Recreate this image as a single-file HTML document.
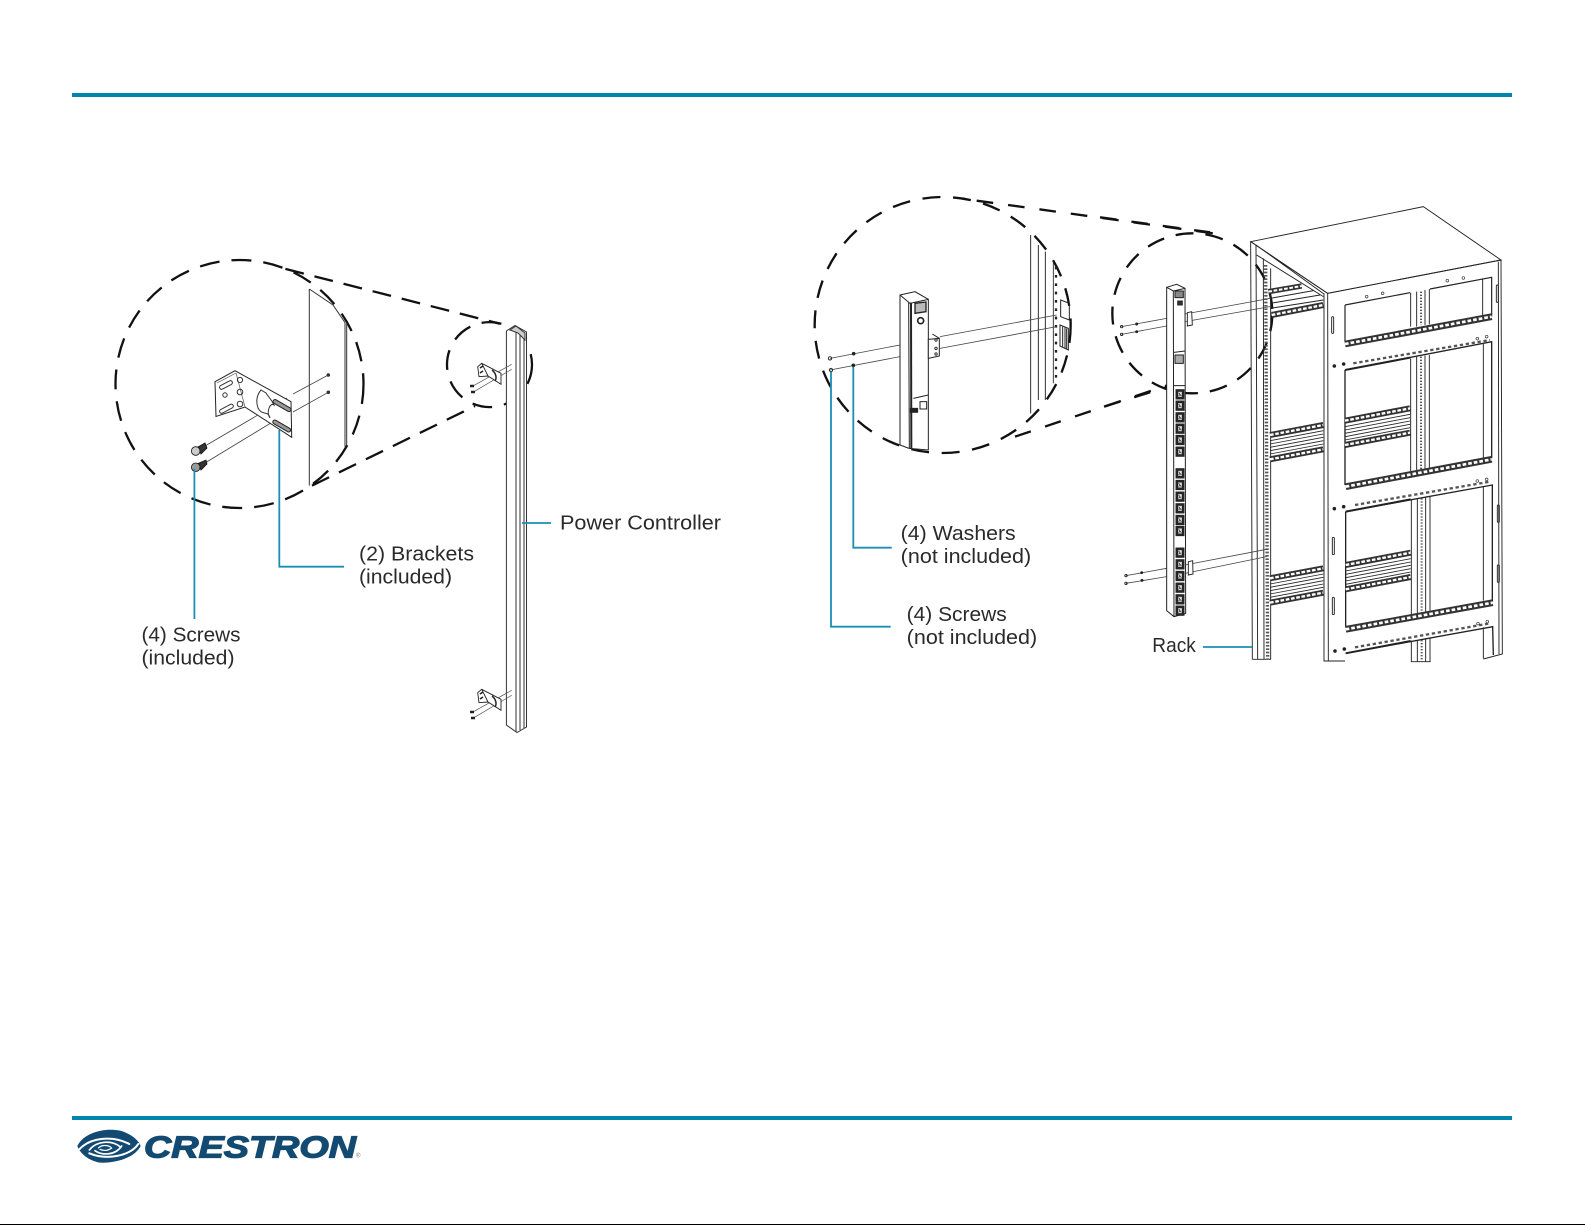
<!DOCTYPE html>
<html><head><meta charset="utf-8"><style>
html,body{margin:0;padding:0;background:#fff}
svg{display:block}
text{font-family:"Liberation Sans",sans-serif;fill:#2a2a2a;font-size:20px}
</style></head><body>
<svg width="1585" height="1225" viewBox="0 0 1585 1225" xmlns="http://www.w3.org/2000/svg">
<defs>
<g id="outlet"><rect x="-12" y="-14" width="24" height="28" fill="#2a2a2a"/><rect x="-7" y="-9" width="14" height="18" fill="#ddd"/><path d="M-4,-5 L4,5 M-4,5 L0,0" stroke="#222" stroke-width="2" fill="none"/></g>
<g id="railL" fill="none">
<path d="M510,735 L670,705" stroke="#333" stroke-width="18"/><path d="M510,735 L670,705" stroke="#fff" stroke-width="7" stroke-dasharray="11 5"/>
<path d="M510,808 L670,778" stroke="#333" stroke-width="18"/><path d="M510,808 L670,778" stroke="#fff" stroke-width="7" stroke-dasharray="11 5"/>
<path d="M510,752 L670,722 M510,762 L670,732 M510,772 L670,742 M510,782 L670,752 M510,792 L670,762" stroke="#222" stroke-width="2.5"/>
</g>
<g id="railF" fill="none">
<path d="M735,692 L930,655" stroke="#333" stroke-width="18"/><path d="M735,692 L930,655" stroke="#fff" stroke-width="7" stroke-dasharray="11 5"/>
<path d="M735,765 L930,728" stroke="#333" stroke-width="18"/><path d="M735,765 L930,728" stroke="#fff" stroke-width="7" stroke-dasharray="11 5"/>
<path d="M735,710 L930,673 M735,720 L930,683 M735,730 L930,693 M735,740 L930,703 M735,750 L930,713" stroke="#222" stroke-width="2.5"/>
</g>
<g id="hole"><circle r="4" fill="#fff" stroke="#333" stroke-width="2"/></g>
<g id="miniBr" fill="none" stroke="#222" stroke-width="0.9">
<path d="M471.7,386.7 L511.7,364.3 M472.3,392.7 L511.7,369.3" stroke="#555" stroke-width="0.7"/>
<path d="M477.7,366.7 L481.7,363.3 L501,373.3 L501,384.3 L488,376 L479,376.7 Z" fill="#fff"/>
<path d="M481.7,363.3 L488,376" />
<path d="M480,368 L483,366 M480,373 L483,371" stroke-width="1.6"/>
<path d="M492,370 C496,373 497,378 495,381" stroke-width="1.5"/>
<path d="M470,386 L474,386 M471,392 L475,392" stroke-width="2.6"/>
</g>
</defs>

<rect x="72" y="93" width="1440" height="4" fill="#0085ad"/>
<rect x="72" y="1116" width="1440" height="4" fill="#0085ad"/>
<rect x="0" y="1224" width="1585" height="1" fill="#000"/>

<!-- LEFT DIAGRAM -->
<g fill="none" stroke="#111" stroke-width="2.3">
<circle cx="239.5" cy="384" r="124" stroke-dasharray="20 12"/>
<circle cx="489.5" cy="364.6" r="42.5" stroke-dasharray="20 12"/>
<path d="M285.4,268.9 L499.7,323.7" stroke-dasharray="19 11"/>
<path d="M312,485.6 L475,406" stroke-dasharray="19 11"/>
</g>
<g fill="none" stroke="#333" stroke-width="1">
<path d="M309.3,289 L309.3,485.6"/>
<path d="M309.3,289 L333,305 L345,322.6"/>
<path d="M345,322.6 L345,446.7 M346.7,322.6 L346.7,446.7"/>
<path d="M205,446 L287,398 M293,394 L328.3,375 M205,463 L289,412 M293,412 L328.3,392.3" stroke="#444" stroke-width="0.8"/>
<circle cx="328.3" cy="375" r="1.3" fill="#333"/><circle cx="328.3" cy="392.3" r="1.3" fill="#333"/>
<path d="M215,381.7 L235,370.7 L291,401.7 L291.7,437.3 L245,407 L216,416.5 Z" fill="#fff" stroke="#222"/>
<path d="M217,383 L236,373 M236,373 L245,407" stroke="#555" stroke-width="0.7"/>
<path d="M261,390 C256,396 256,402 258,408 C262,416 268,410 270,418 C266,412 270,402 274,405 C271,398 268,397 266,393 Z" fill="#fff" stroke="#333"/>
<rect x="272" y="402.500" width="20" height="4" rx="2" transform="rotate(30 280 405)" fill="#999" stroke="#222"/>
<rect x="272" y="423" width="20" height="4" rx="2" transform="rotate(30 280 425)" fill="#999" stroke="#222"/>
<rect x="219" y="383" width="14" height="4" rx="2" transform="rotate(-28 226 385)"/>
<rect x="219" y="407" width="15" height="4" rx="2" transform="rotate(-28 226 409)"/>
<circle cx="240" cy="380" r="2.6"/><circle cx="240" cy="392" r="2.8"/><circle cx="240" cy="404" r="2.8"/><circle cx="225" cy="395" r="2.2"/>
</g>
<g fill="#333" stroke="#111" stroke-width="0.8">
<path d="M198,447 L205,443 L207,448 L201,454 Z"/>
<circle cx="195.700" cy="451" r="4.3" fill="#ccc"/>
<path d="M198,463.500 L206,460 L207,464 L201,470 Z"/>
<circle cx="195.700" cy="467.300" r="4.3" fill="#999"/>
</g>
<g fill="none" stroke="#333" stroke-width="1">
<path d="M506.4,331 L515,325.500 L526.500,332 L526.500,727 L517,732.500 L506.400,725 Z" fill="#fff"/>
<path d="M516,332 L516,732 M520,335 L520,730 M524,338 L524,728"/>
<path d="M510,330 L516,326 L525,333 L525,340 L518,333 Z" fill="#ccc"/>
</g>
<use href="#miniBr"/>
<use href="#miniBr" transform="translate(0,326)"/>
<g fill="none" stroke="#1a8fb4" stroke-width="1.800">
<path d="M522,523 L551,523"/>
<path d="M279.300,430 L279.300,566.700 L344,566.700"/>
<path d="M194.400,469 L194.400,619"/>
</g>
<text x="560" y="529.500" textLength="161" lengthAdjust="spacingAndGlyphs">Power Controller</text>
<text x="359" y="560.500" textLength="115" lengthAdjust="spacingAndGlyphs">(2) Brackets</text>
<text x="359" y="583.500" textLength="93" lengthAdjust="spacingAndGlyphs">(included)</text>
<text x="141.500" y="641.500" textLength="99" lengthAdjust="spacingAndGlyphs">(4) Screws</text>
<text x="141.500" y="664.500" textLength="93" lengthAdjust="spacingAndGlyphs">(included)</text>

<!-- RIGHT INSET (zoom coords) -->
<g transform="translate(800,180) scale(0.33333)" fill="none" stroke="#222" stroke-width="2.800">
<circle cx="428" cy="435" r="384" stroke="#111" stroke-width="7" stroke-dasharray="54 38"/>
<path d="M530,62 L1240,160" stroke="#111" stroke-width="7" stroke-dasharray="50 45"/>
<path d="M645,770 L1120,610" stroke="#111" stroke-width="7" stroke-dasharray="50 45"/>
<path d="M692,165 L692,700 M715,195 L715,660 M736,215 L736,660" />
<path d="M760,245 L760,610" stroke="#333"/>
<path d="M768,260 L768,600" stroke="#222" stroke-width="7" stroke-dasharray="8 17"/>
<path d="M782,360 L808,370 L808,420 L782,410 Z M780,435 L805,445 L805,510 L780,498 Z" stroke-width="3"/>
<path d="M788,440 L788,500 M795,442 L795,505 M800,445 L800,507" stroke-width="3"/>
<path d="M90,535 L300,495 M90,570 L300,530 M420,470 L770,405 M420,505 L770,440" stroke="#444" stroke-width="2.400"/>
<circle cx="90" cy="535" r="5"/><circle cx="93" cy="570" r="5"/>
<circle cx="161" cy="521" r="4" fill="#222"/><circle cx="160" cy="556" r="4" fill="#222"/>
<path d="M300,345 L345,335 L385,358 L385,810 L327,805 L300,795 Z" fill="#fff" stroke-width="3"/>
<path d="M300,345 L330,370 L385,358 M326,368 L328,805" stroke-width="3"/>
<path d="M333,368 L334,805" stroke-width="6"/>
<path d="M345,370 L378,366 L378,395 L345,400 Z" fill="#bbb" stroke-width="4"/>
<circle cx="362" cy="422" r="9" stroke-width="5"/>
<path d="M340,655 L385,645" stroke-width="3"/>
<rect x="360" y="665" width="20" height="22" stroke-width="3"/>
<rect x="331" y="685" width="22" height="12" fill="#222"/>
<path d="M385,478 L418,475 L418,528 L385,535 Z M397,462 L418,475" fill="#fff" stroke-width="3"/>
<circle cx="408" cy="480" r="3.500"/><circle cx="408" cy="505" r="3.500"/><circle cx="408" cy="522" r="3.500"/>
</g>

<!-- RACK + PDU (zoom coords) -->
<g transform="translate(1100,190) scale(0.33333)" fill="none" stroke="#222" stroke-width="2.800">
<circle cx="277" cy="370" r="240" stroke="#111" stroke-width="7" stroke-dasharray="54 36"/>
<path d="M452,155 L970,50 L1203,210 L683,310 Z" fill="#fff"/>
<path d="M452,155 L457,1408 M468,165 L473,1408 M490,205 L492,1408 M512,235 L512,1408 M457,1408 L513,1408"/>
<path d="M497,225 L503,1408" stroke-width="10" stroke="#555" stroke-dasharray="5 5"/>
<path d="M468,165 L672,312 M470,195 L670,320 M452,155 L683,310"/>
<!-- top rear rail, clipped by the brace -->
<path d="M505,305 L605,288" stroke="#333" stroke-width="16"/><path d="M505,305 L605,288" stroke="#fff" stroke-width="6" stroke-dasharray="11 5"/>
<path d="M510,325 L640,302 M510,340 L660,315 M510,355 L670,330" stroke-width="3"/>
<path d="M515,375 L670,345" stroke="#333" stroke-width="18"/><path d="M515,375 L670,345" stroke="#fff" stroke-width="7" stroke-dasharray="11 5"/>
<use href="#railL"/>
<use href="#railL" transform="translate(0,430)"/>
<path d="M672,310 L672,1413 L735,1413 M683,310 L685,1413"/>
<path d="M683,310 L1203,210 L1207,1392 L1150,1407"/>
<path d="M1195,215 L1197,1392"/>
<!-- windows -->
<path d="M735,345 L930,308 M990,297 L1175,262 L1175,380 M735,345 L735,455" stroke-width="3.500"/>
<path d="M735,540 L1175,455 L1175,805 M735,540 L735,885" stroke-width="4"/>
<path d="M737,965 L1177,885 L1177,1235 M737,965 L737,1310" stroke-width="4"/>
<path d="M737,1390 L1178,1310 L1180,1395" stroke-width="4"/>
<use href="#railF"/>
<use href="#railF" transform="translate(2,433)"/>
<path d="M932,308 L932,410 M950,305 L950,410 M975,300 L975,405 M988,297 L988,403" />
<path d="M932,505 L932,845 M950,500 L950,842 M975,497 L975,838 M988,495 L988,835"/>
<path d="M934,928 L934,1272 M952,925 L952,1270 M977,920 L977,1265 M990,918 L990,1262"/>
<path d="M934,1352 L934,1415 L992,1415 M952,1350 L952,1415 M977,1345 L977,1415 M990,1342 L990,1415"/>
<path d="M963,305 L963,405 M963,500 L963,840 M965,925 L965,1268 M965,1350 L965,1415" stroke="#555" stroke-width="6" stroke-dasharray="4 5"/>
<path d="M1148,265 L1148,385 M1150,460 L1150,805 M1150,888 L1150,1232 M1150,1312 L1150,1405"/>
<!-- beaded strips -->
<g stroke="#333" stroke-width="20"><path d="M735,462 L1175,380"/><path d="M737,890 L1175,808"/><path d="M737,1318 L1178,1238"/></g>
<g stroke="#fff" stroke-width="8" stroke-dasharray="11 6"><path d="M735,462 L1175,380"/><path d="M737,890 L1175,808"/><path d="M737,1318 L1178,1238"/></g>
<g stroke="#222" stroke-width="6"><path d="M735,540 L930,503"/><path d="M737,965 L932,928"/><path d="M737,1390 L932,1353"/></g>
<g stroke="#555" stroke-width="7" stroke-dasharray="10 8"><path d="M760,520 L1170,450"/><path d="M765,945 L1170,875"/><path d="M765,1372 L1170,1300"/></g>
<rect x="695" y="380" width="6" height="50" rx="3"/><rect x="1189" y="285" width="6" height="52" rx="3"/>
<rect x="1192" y="945" width="6" height="52" rx="3"/><rect x="1192" y="1125" width="6" height="52" rx="3"/>
<rect x="697" y="1042" width="6" height="52" rx="3"/><rect x="697" y="1222" width="6" height="52" rx="3"/>
<use href="#hole" x="800" y="320"/><use href="#hole" x="848" y="310"/><use href="#hole" x="1042" y="272"/><use href="#hole" x="1090" y="264"/>
<circle cx="703" cy="528" r="4" fill="#222"/><circle cx="731" cy="522" r="4" fill="#222"/>
<circle cx="703" cy="956" r="4" fill="#222"/><circle cx="731" cy="950" r="4" fill="#222"/>
<circle cx="705" cy="1383" r="4" fill="#222"/><circle cx="733" cy="1377" r="4" fill="#222"/>
<use href="#hole" x="1132" y="446"/><use href="#hole" x="1160" y="440"/><use href="#hole" x="1132" y="873"/><use href="#hole" x="1160" y="868"/><use href="#hole" x="1134" y="1301"/><use href="#hole" x="1162" y="1295"/>
<!-- dashed tangent end -->
<path d="M0,82 L330,127" stroke="#111" stroke-width="7" stroke-dasharray="50 45"/>
<path d="M12,650 L220,585" stroke="#111" stroke-width="7" stroke-dasharray="50 45"/>
<!-- screw lines -->
<path d="M65,410 L200,385 M65,433 L200,408 M255,372 L510,325 M255,395 L510,350" stroke="#444" stroke-width="2.400"/>
<path d="M78,1157 L200,1135 M78,1180 L200,1160 M255,1125 L500,1078 M255,1150 L500,1100" stroke="#444" stroke-width="2.400"/>
<circle cx="65" cy="410" r="3.500"/><circle cx="65" cy="433" r="3.500"/><circle cx="110" cy="402" r="3" fill="#222"/><circle cx="110" cy="425" r="3" fill="#222"/>
<circle cx="78" cy="1157" r="3.500"/><circle cx="78" cy="1180" r="3.500"/><circle cx="125" cy="1148" r="3" fill="#222"/><circle cx="126" cy="1171" r="3" fill="#222"/>
<!-- PDU -->
<path d="M200,292 L230,283 L255,295 L257,1270 L222,1280 L200,1262 Z" fill="#fff" stroke-width="3"/>
<path d="M200,292 L220,303 L255,295 M220,303 L222,1280" stroke-width="3"/>
<rect x="225" y="303" width="25" height="20" fill="#888" stroke-width="3"/>
<rect x="233" y="333" width="14" height="12" fill="#333"/>
<path d="M222,487 L255,483 M222,587 L255,587" stroke-width="3"/>
<path d="M225,495 L250,495 L250,520 L225,520 Z" fill="#aaa" stroke-width="3"/>
<path d="M262,368 L275,365 L277,405 L262,408 Z M265,1115 L278,1112 L279,1152 L265,1155 Z" fill="#fff"/>
<use href="#outlet" x="240" y="613"/><use href="#outlet" x="240" y="647"/><use href="#outlet" x="240" y="682"/><use href="#outlet" x="240" y="716"/><use href="#outlet" x="240" y="750"/><use href="#outlet" x="240" y="785"/>
<use href="#outlet" x="240" y="850"/><use href="#outlet" x="240" y="885"/><use href="#outlet" x="240" y="920"/><use href="#outlet" x="240" y="955"/><use href="#outlet" x="240" y="990"/><use href="#outlet" x="240" y="1023"/>
<use href="#outlet" x="240" y="1088"/><use href="#outlet" x="240" y="1123"/><use href="#outlet" x="240" y="1158"/><use href="#outlet" x="240" y="1193"/><use href="#outlet" x="240" y="1228"/><use href="#outlet" x="240" y="1262"/>
</g>

<g fill="none" stroke="#1a8fb4" stroke-width="1.800">
<path d="M853.300,366.700 L853.300,547.700 L891.700,547.700"/>
<path d="M831,371.700 L831,626.700 L890.700,626.700"/>
<path d="M1203,647 L1252,647"/>
</g>
<text x="900.700" y="540" textLength="115" lengthAdjust="spacingAndGlyphs">(4) Washers</text>
<text x="900.700" y="563" textLength="130.500" lengthAdjust="spacingAndGlyphs">(not included)</text>
<text x="906.700" y="621" textLength="100" lengthAdjust="spacingAndGlyphs">(4) Screws</text>
<text x="906.700" y="644" textLength="130.500" lengthAdjust="spacingAndGlyphs">(not included)</text>
<text x="1152.300" y="652" textLength="43.500" lengthAdjust="spacingAndGlyphs">Rack</text>

<!-- LOGO -->
<g transform="translate(70,1120) scale(0.33333)">
<path d="M22,78 C40,40 100,22 150,32 C185,42 205,60 212,78 C195,112 140,130 90,128 C55,122 30,100 22,78 Z" fill="#134a72"/>
<g fill="none" stroke="#fff" stroke-linecap="round">
<path d="M28,88 C55,58 120,42 178,72" stroke-width="6"/>
<path d="M205,72 C180,108 110,122 58,100" stroke-width="6"/>
<path d="M58,90 C80,62 125,60 150,80" stroke-width="5"/>
<path d="M155,78 C135,108 95,106 75,92" stroke-width="5"/>
<path d="M85,84 C95,74 115,74 125,84 C112,94 98,92 90,88" stroke-width="3.500"/>
</g>
</g>
<text x="144" y="1157.500" textLength="212" lengthAdjust="spacingAndGlyphs" style="font-size:30.500px;font-weight:bold;font-style:italic;fill:#134a72;stroke:#134a72;stroke-width:1.200px">CRESTRON</text>
<text x="356" y="1157.500" style="font-size:6px;fill:#777">®</text>
</svg>
</body></html>
